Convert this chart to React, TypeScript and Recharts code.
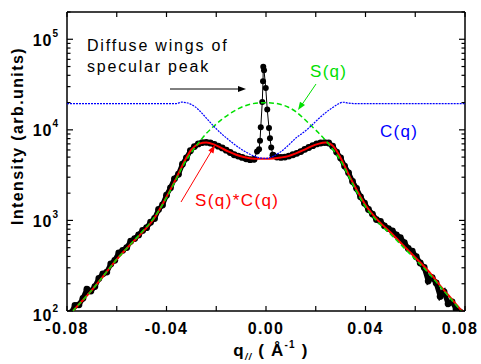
import React from "react";
import { LineChart, Line, XAxis, YAxis } from "recharts";

// measured intensity (black dots): left wing, specular peak, right wing
const leftQ = [
  -0.0784, -0.0768, -0.0752, -0.0736, -0.072, -0.0704, -0.0688, -0.0672, -0.0656, -0.064,
  -0.0624, -0.0608, -0.0592, -0.0576, -0.056, -0.0544, -0.0528, -0.0512, -0.0496, -0.048,
  -0.0464, -0.0448, -0.0432, -0.0416, -0.04, -0.0384, -0.0368, -0.0352, -0.0336, -0.032,
  -0.0304, -0.0288, -0.0272, -0.0256, -0.024, -0.0224, -0.0208, -0.0192, -0.0176, -0.016,
  -0.0144, -0.0128, -0.0112, -0.0096, -0.008, -0.0064, -0.0048,
];
const leftI = [
  95, 115, 117, 138, 174, 166, 186, 229, 257, 269,
  331, 363, 437, 468, 501, 589, 631, 692, 776, 832,
  955, 1050, 1320, 1480, 1900, 2290, 2880, 3240, 4170, 4900,
  5890, 6530, 7000, 7240, 7280, 7160, 6920, 6610, 6310, 5960,
  5620, 5310, 5130, 4960, 4790, 4680, 4730,
];
const peakQ = [
  -0.0048, -0.0036, -0.0028, -0.0024, -0.0021, -0.0015, -0.0012, -0.0011, -0.0008, -0.0001,
  0.0005, 0.0012, 0.0016, 0.0021, 0.0028,
];
const peakI = [
  4730, 5750, 6100, 7600, 10700, 20300, 34400, 49700, 45600, 29000,
  16800, 10500, 8100, 6400, 5250,
];
const rightQ = [
  0.0028, 0.0044, 0.006, 0.0076, 0.0092, 0.0108, 0.0124, 0.014, 0.0156, 0.0172,
  0.0188, 0.0204, 0.022, 0.0236, 0.0252, 0.0268, 0.0284, 0.03, 0.0316, 0.0332,
  0.0348, 0.0364, 0.038, 0.0396, 0.0412, 0.0428, 0.0444, 0.046, 0.0476, 0.0492,
  0.0508, 0.0524, 0.054, 0.0556, 0.0572, 0.0588, 0.0604, 0.062, 0.0636, 0.0652,
  0.0668, 0.0684, 0.07, 0.0716, 0.0732, 0.0748, 0.0764, 0.078, 0.0792,
];
const rightI = [
  5250, 5010, 4960, 5010, 5130, 5310, 5500, 5750, 6100, 6380,
  6680, 7000, 7160, 7240, 7160, 6610, 5690, 4900, 3980, 3350,
  2690, 2260, 1820, 1550, 1320, 1175, 1023, 977, 871, 813,
  767, 692, 646, 569, 490, 457, 398, 339, 302, 214,
  234, 204, 145, 162, 120, 126, 105, 98, 91,
];

// model curves
const fitQ = [
  -0.08, -0.075, -0.07, -0.065, -0.06, -0.055, -0.05, -0.045, -0.04, -0.036, -0.033,
  -0.03, -0.027, -0.024, -0.021, -0.018, -0.015, -0.012, -0.009, -0.006, -0.003, 0,
  0.003, 0.006, 0.009, 0.012, 0.015, 0.018, 0.021, 0.024, 0.027, 0.03, 0.033,
  0.036, 0.04, 0.045, 0.05, 0.055, 0.06, 0.065, 0.07, 0.075, 0.08,
];
const fitSC = [
  85, 120, 170, 251, 372, 525, 724, 1050, 1820, 2950, 4370,
  6030, 7000, 7240, 6920, 6310, 5750, 5310, 5010, 4840, 4790, 4790,
  4840, 4950, 5130, 5500, 5960, 6530, 7000, 7240, 6610, 4900, 3310,
  2290, 1480, 1000, 741, 537, 389, 282, 191, 132, 91,
];
const fitS = [
  85, 120, 170, 251, 372, 525, 741, 1070, 1780, 2880, 4170,
  5620, 7240, 9120, 10960, 12880, 14790, 16600, 18200, 19280, 19820, 19950,
  19720, 19050, 17780, 15850, 13490, 11220, 9330, 7590, 6030, 4570, 3160,
  2190, 1410, 955, 708, 513, 372, 269, 186, 129, 89,
];
const cQ = [
  -0.08, -0.04, -0.036, -0.034, -0.032, -0.03, -0.027, -0.024, -0.021, -0.018, -0.015,
  -0.012, -0.009, -0.006, -0.003, 0, 0.003, 0.006, 0.009, 0.012, 0.015, 0.018,
  0.021, 0.024, 0.027, 0.029, 0.031, 0.033, 0.036, 0.04, 0.08,
];
const cI = [
  19500, 19500, 19500, 20200, 19950, 19050, 16600, 13490, 10960, 9120, 7760,
  6680, 5890, 5310, 4950, 4840, 5130, 5750, 6760, 8130, 9330, 10960,
  13180, 15490, 17780, 19280, 20180, 19720, 19500, 19500, 19500,
];

const xTicks = [-0.08, -0.06, -0.04, -0.02, 0, 0.02, 0.04, 0.06, 0.08];
const xLabels = ["-0.08", "-0.04", "0.00", "0.04", "0.08"];
const yTicks = [
  100, 200, 300, 400, 500, 600, 700, 800, 900,
  1000, 2000, 3000, 4000, 5000, 6000, 7000, 8000, 9000,
  10000, 20000, 30000, 40000, 50000, 60000, 70000, 80000, 90000,
  100000, 200000,
];

const pairs = (qs: number[], vs: number[]) => qs.map((q, i) => ({ q, v: vs[i] }));
const leftWing = pairs(leftQ, leftI);
const peak = pairs(peakQ, peakI);
const rightWing = pairs(rightQ, rightI);
const scCurve = pairs(fitQ, fitSC);
const sCurve = pairs(fitQ, fitS);
const cCurve = pairs(cQ, cI);

const W = 481;
const H = 364;
const L = 67;
const R = 465;
const T = 12;
const B = 311;
const FONT = "'Liberation Sans', Arial, sans-serif";
const GREEN = "#00e000";
const BLUE = "#0000ff";
const RED = "#ff0000";

const XTick = (props: any) => {
  const { x, payload, side } = props;
  const v = payload.value;
  const y0 = side === "bottom" ? B : T;
  const dir = side === "bottom" ? -1 : 1;
  const label = xLabels.find((s) => Math.abs(parseFloat(s) - v) < 1e-9);
  return (
    <g>
      <line x1={x} x2={x} y1={y0} y2={y0 + dir * 5} stroke="#000" strokeWidth={1.2} />
      {side === "bottom" && label && (
        <text x={Math.min(x, W - 21)} y={334} textAnchor="middle" fontFamily={FONT} fontWeight="bold" fontSize={16} letterSpacing={1.4} fill="#000">
          {label}
        </text>
      )}
    </g>
  );
};

const YTick = (props: any) => {
  const { y, payload, side } = props;
  const v = payload.value;
  const e = Math.round(Math.log10(v));
  const major = Math.abs(Math.log10(v) - e) < 1e-6;
  const x0 = side === "left" ? L : R;
  const dir = side === "left" ? 1 : -1;
  const len = major ? 6 : 3.5;
  const ly = v === 100 ? y + 10 : y + 6.5;
  return (
    <g>
      <line x1={x0} x2={x0 + dir * len} y1={y} y2={y} stroke="#000" strokeWidth={1.2} />
      {side === "left" && major && (
        <text x={L - 8} y={ly} textAnchor="end" fontFamily={FONT} fontWeight="bold" fontSize={16} letterSpacing={1} fill="#000">
          10
          <tspan dy={-9} fontSize={10}>{e}</tspan>
        </text>
      )}
    </g>
  );
};

const axisLine = { stroke: "#000", strokeWidth: 1.5 };

export default function App() {
  return (
    <div style={{ position: "relative", width: W, height: H, background: "#fff" }}>
      <style>{"body{margin:0}"}</style>
      <LineChart width={W} height={H} margin={{ top: 2, right: 6, bottom: 3, left: 7 }}>
        <XAxis
          xAxisId="b"
          type="number"
          dataKey="q"
          domain={[-0.08, 0.08]}
          ticks={xTicks}
          interval={0}
          height={H - B - 3}
          allowDataOverflow
          axisLine={axisLine}
          tickLine={false}
          tick={<XTick side="bottom" />}
        />
        <XAxis
          xAxisId="t"
          orientation="top"
          type="number"
          dataKey="q"
          domain={[-0.08, 0.08]}
          ticks={xTicks}
          interval={0}
          height={T - 2}
          allowDataOverflow
          axisLine={axisLine}
          tickLine={false}
          tick={<XTick side="top" />}
        />
        <YAxis
          yAxisId="l"
          scale="log"
          type="number"
          domain={[100, 200000]}
          ticks={yTicks}
          interval={0}
          width={L - 7}
          allowDataOverflow
          axisLine={axisLine}
          tickLine={false}
          tick={<YTick side="left" />}
        />
        <YAxis
          yAxisId="r"
          orientation="right"
          scale="log"
          type="number"
          domain={[100, 200000]}
          ticks={yTicks}
          interval={0}
          width={W - R - 6}
          allowDataOverflow
          axisLine={axisLine}
          tickLine={false}
          tick={<YTick side="right" />}
        />
        <Line
          xAxisId="b"
          yAxisId="l"
          data={leftWing}
          dataKey="v"
          type="linear"
          stroke="#000"
          strokeWidth={5}
          dot={{ r: 3.4, fill: "#000", stroke: "none" }}
          isAnimationActive={false}
        />
        <Line
          xAxisId="b"
          yAxisId="l"
          data={rightWing}
          dataKey="v"
          type="linear"
          stroke="#000"
          strokeWidth={5}
          dot={{ r: 3.4, fill: "#000", stroke: "none" }}
          isAnimationActive={false}
        />
        <Line
          xAxisId="b"
          yAxisId="l"
          data={peak}
          dataKey="v"
          type="linear"
          stroke="#000"
          strokeWidth={1}
          dot={{ r: 3, fill: "#000", stroke: "none" }}
          isAnimationActive={false}
        />
        <Line
          xAxisId="b"
          yAxisId="l"
          data={scCurve}
          dataKey="v"
          type="monotone"
          stroke={RED}
          strokeWidth={2}
          dot={false}
          zIndex={1100}
          isAnimationActive={false}
        />
        <Line
          xAxisId="b"
          yAxisId="l"
          data={sCurve}
          dataKey="v"
          type="monotone"
          stroke={GREEN}
          strokeWidth={1.5}
          strokeDasharray="5 3"
          dot={false}
          zIndex={1110}
          isAnimationActive={false}
        />
        <Line
          xAxisId="b"
          yAxisId="l"
          data={cCurve}
          dataKey="v"
          type="monotone"
          stroke={BLUE}
          strokeWidth={1.2}
          strokeDasharray="2 1"
          dot={false}
          zIndex={1120}
          isAnimationActive={false}
        />
      </LineChart>
      <svg width={W} height={H} style={{ position: "absolute", left: 0, top: 0, pointerEvents: "none" }}>
        <text
          transform="translate(23,136) rotate(-90)"
          textAnchor="middle"
          fontFamily={FONT}
          fontWeight="bold"
          fontSize={16}
          letterSpacing={1.4}
          fill="#000"
        >
          Intensity (arb.units)
        </text>
        <text x={271} y={356} textAnchor="middle" fontFamily={FONT} fontWeight="bold" fontSize={17} letterSpacing={1.2} fill="#000" xmlSpace="preserve">
          q<tspan dy={4} fontSize={9} fontStyle="italic">//</tspan>
          <tspan dy={-4}> ( Å</tspan>
          <tspan dy={-8} fontSize={10}>-1</tspan>
          <tspan dy={8}> )</tspan>
        </text>
        <text x={87} y={51} fontFamily={FONT} fontSize={16} letterSpacing={1.8} fill="#000">
          Diffuse wings of
        </text>
        <text x={87} y={72} fontFamily={FONT} fontSize={16} letterSpacing={1.8} fill="#000">
          specular peak
        </text>
        <line x1={170} y1={89} x2={240} y2={89} stroke="#000" strokeWidth={1} />
        <polygon points="246,89 238,86 238,92" fill="#000" />
        <text x={310} y={77} fontFamily={FONT} fontSize={17} letterSpacing={1.3} fill={GREEN}>S(q)</text>
        <line x1={316} y1={84} x2={301} y2={106} stroke={GREEN} strokeWidth={1} />
        <polygon points="298,110 305,105.1 300,101.7" fill={GREEN} />
        <text x={380} y={137} fontFamily={FONT} fontSize={17} letterSpacing={1.3} fill={BLUE}>C(q)</text>
        <text x={195} y={206} fontFamily={FONT} fontSize={17} letterSpacing={1.4} fill={RED}>S(q)*C(q)</text>
        <line x1={181} y1={202} x2={212} y2={150} stroke={RED} strokeWidth={1} />
        <polygon points="215,145 213.5,153.4 208.3,150.4" fill={RED} />
      </svg>
    </div>
  );
}
